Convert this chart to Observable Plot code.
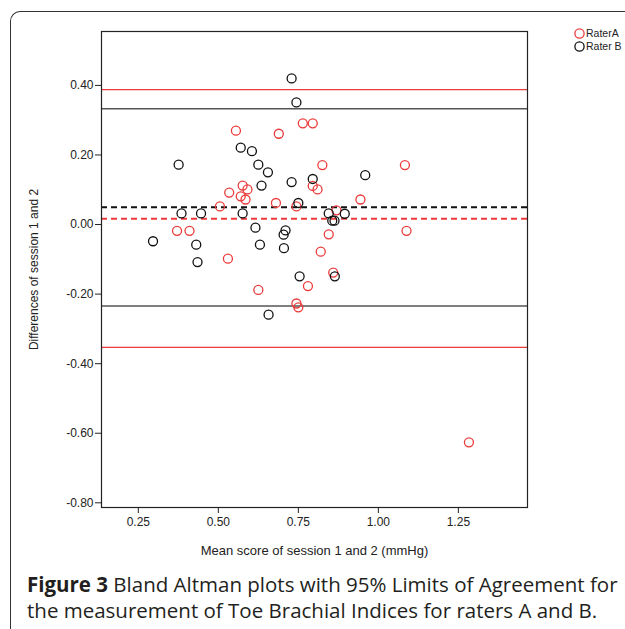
<!DOCTYPE html>
<html><head><meta charset="utf-8">
<script src="https://cdn.jsdelivr.net/npm/d3@7"></script>
<script src="https://cdn.jsdelivr.net/npm/@observablehq/plot@0.6"></script>
<style>
html,body{margin:0;padding:0;background:#fff;}
#wrap{position:relative;width:625px;height:629px;overflow:hidden;background:#fff;}
#border{position:absolute;left:10px;top:11px;width:660px;height:660px;border-top:1px solid #333;border-left:1px solid #333;border-top-left-radius:10px;}
#chart{position:absolute;left:0;top:0;}
#legend{position:absolute;left:570px;top:25px;}
#caption{position:absolute;left:27px;top:571px;font-family:"Open Sans",sans-serif;font-size:20.5px;line-height:26px;color:#231f20;letter-spacing:0;white-space:nowrap;}
#caption b{font-weight:700;}
</style></head>
<body>
<div id="wrap">
  <div id="border"></div>
  <div id="chart"></div>
  <div id="legend"></div>
  <div id="caption"><b>Figure 3</b> Bland Altman plots with 95% Limits of Agreement for<br>the measurement of Toe Brachial Indices for raters A and B.</div>
</div>
<script>
// ---- data ----
const seriesNames = ["RaterA", "Rater B"];
const seriesColors = ["#ec3b3b", "#111111"];

const raterAMean = [0.555, 0.689, 0.764, 0.795, 0.825, 1.083, 0.576, 0.591, 0.534, 0.570, 0.585, 0.505, 0.680, 0.795, 0.810, 0.944, 0.744, 0.869, 0.371, 0.410, 0.530, 0.625, 1.088, 0.845, 0.820, 0.859, 0.780, 0.744, 0.750, 1.283];
const raterADiff = [0.270, 0.261, 0.291, 0.291, 0.171, 0.171, 0.112, 0.101, 0.092, 0.081, 0.072, 0.052, 0.062, 0.111, 0.101, 0.072, 0.052, 0.041, -0.018, -0.018, -0.098, -0.188, -0.018, -0.028, -0.078, -0.138, -0.177, -0.227, -0.238, -0.626];

const raterBMean = [0.729, 0.744, 0.570, 0.605, 0.376, 0.625, 0.655, 0.635, 0.729, 0.795, 0.959, 0.750, 0.385, 0.446, 0.576, 0.845, 0.895, 0.856, 0.863, 0.616, 0.710, 0.704, 0.705, 0.296, 0.431, 0.630, 0.435, 0.754, 0.864, 0.657];
const raterBDiff = [0.420, 0.351, 0.221, 0.211, 0.172, 0.172, 0.150, 0.112, 0.122, 0.131, 0.142, 0.062, 0.032, 0.032, 0.032, 0.032, 0.031, 0.011, 0.011, -0.009, -0.017, -0.029, -0.068, -0.048, -0.058, -0.058, -0.108, -0.149, -0.149, -0.259];

// limits of agreement: [upper, mean, lower]
const raterALimits = [0.388, 0.017, -0.353];
const raterBLimits = [0.333, 0.050, -0.234];

const xTicks = [0.25, 0.50, 0.75, 1.00, 1.25];
const yTicks = [0.40, 0.20, 0.00, -0.20, -0.40, -0.60, -0.80];
const xLabel = "Mean score of session 1 and 2 (mmHg)";
const yLabel = "Differences of session 1 and 2";

// ---- build tables ----
const pointsA = raterAMean.map((m, i) => ({mean: m, diff: raterADiff[i]}));
const pointsB = raterBMean.map((m, i) => ({mean: m, diff: raterBDiff[i]}));
const limA = [raterALimits[0], raterALimits[2]];
const limB = [raterBLimits[0], raterBLimits[2]];

const fmt = d => d.toFixed(2);
const font = "'Liberation Sans', Arial, sans-serif";

const chart = Plot.plot({
  width: 625,
  height: 565,
  marginLeft: 101,
  marginRight: 98,
  marginTop: 31,
  marginBottom: 58,
  style: {fontFamily: font, fontSize: "12px", color: "#222", background: "transparent", overflow: "visible"},
  x: {domain: [0.135, 1.466]},
  y: {domain: [-0.8135, 0.555]},
  marks: [
    Plot.ruleY(limA, {stroke: seriesColors[0], strokeWidth: 1.1}),
    Plot.ruleY(limB, {stroke: "#555", strokeWidth: 1.5}),
    Plot.ruleY([raterBLimits[1]], {stroke: seriesColors[1], strokeWidth: 2, strokeDasharray: "6,4"}),
    Plot.ruleY([raterALimits[1]], {stroke: seriesColors[0], strokeWidth: 2, strokeDasharray: "6,4"}),
    Plot.dot(pointsA, {x: "mean", y: "diff", r: 4.5, stroke: seriesColors[0], strokeWidth: 1.3, fill: "none"}),
    Plot.dot(pointsB, {x: "mean", y: "diff", r: 4.5, stroke: seriesColors[1], strokeWidth: 1.3, fill: "none"}),
    Plot.frame({stroke: "#222", strokeWidth: 1.2}),
    Plot.axisX({ticks: xTicks, tickFormat: fmt, tickSize: 6, tickPadding: 4, label: null}),
    Plot.axisX({ticks: [], label: xLabel, labelAnchor: "center", labelArrow: "none", labelOffset: 47, fontSize: 13}),
    Plot.axisY({ticks: yTicks, tickFormat: fmt, tickSize: 6, tickPadding: 2, label: null}),
    Plot.axisY({ticks: [], label: yLabel, labelAnchor: "center", labelArrow: "none", labelOffset: 72, fontSize: 12})
  ]
});
document.getElementById("chart").appendChild(chart);

// ---- legend ----
const lg = d3.select("#legend").append("svg").attr("width", 55).attr("height", 34)
  .style("font-family", font).style("font-size", "10.5px");
seriesNames.forEach((name, i) => {
  const g = lg.append("g").attr("transform", `translate(0,${i * 13})`);
  g.append("circle").attr("cx", 9.5).attr("cy", 8.5).attr("r", 4.6)
    .attr("fill", "none").attr("stroke", seriesColors[i]).attr("stroke-width", 1.3);
  g.append("text").attr("x", 16).attr("y", 12.3).attr("fill", "#222").text(name);
});
</script>
</body></html>
